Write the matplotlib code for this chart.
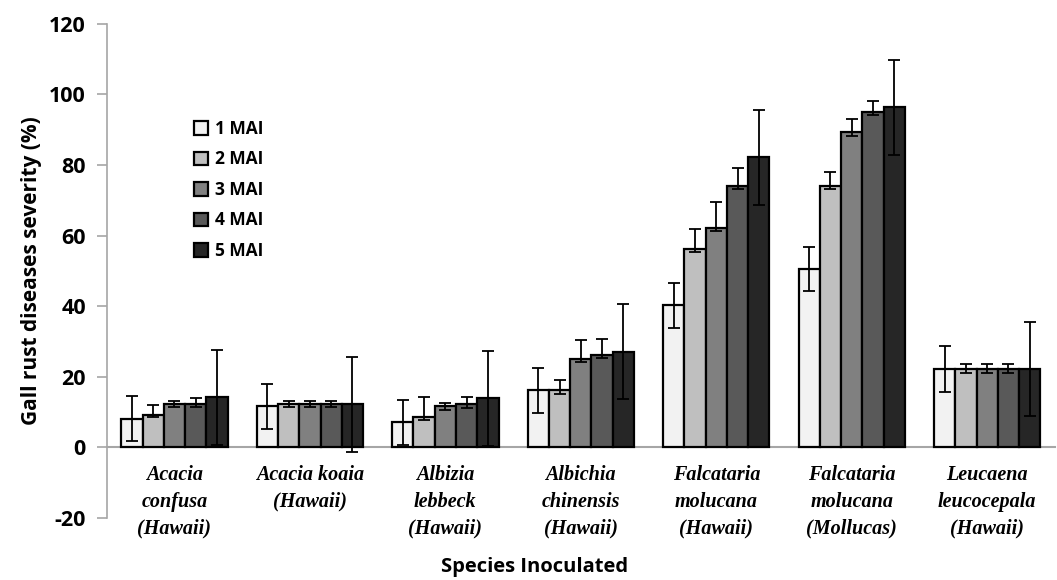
import numpy as np
import matplotlib
matplotlib.use("Agg")
import matplotlib.pyplot as plt

plt.rcParams["axes.unicode_minus"] = False

species = ["Acacia\nconfusa\n(Hawaii)", "Acacia koaia\n(Hawaii)", "Albizia\nlebbeck\n(Hawaii)",
           "Albichia\nchinensis\n(Hawaii)", "Falcataria\nmolucana\n(Hawaii)",
           "Falcataria\nmolucana\n(Mollucas)", "Leucaena\nleucocepala\n(Hawaii)"]
series = ["1 MAI", "2 MAI", "3 MAI", "4 MAI", "5 MAI"]

mai1 = [8.1, 11.6, 7.1, 16.2, 40.2, 50.6, 22.1]
mai2 = [9.3, 12.2, 8.6, 16.2, 56.2, 74.1, 22.1]
mai3 = [12.2, 12.2, 11.6, 25.0, 62.2, 89.2, 22.1]
mai4 = [12.2, 12.2, 12.2, 26.3, 74.1, 95.1, 22.1]
mai5 = [14.2, 12.2, 13.9, 27.1, 82.3, 96.3, 22.1]

# error bars: upper / lower lengths
up1 = [6.4, 6.4, 6.4, 6.3, 6.3, 6.3, 6.5]
lo1 = [6.4, 6.4, 6.4, 6.5, 6.3, 6.3, 6.3]
up2 = [2.8, 0.9, 5.8, 2.8, 5.7, 3.8, 1.4]
lo2 = [0.8, 0.9, 0.9, 1.0, 0.9, 0.9, 0.9]
up3 = [0.9, 0.9, 1.0, 5.4, 7.2, 3.9, 1.4]
lo3 = [0.9, 0.9, 0.9, 0.9, 0.9, 1.0, 0.9]
up4 = [1.9, 0.9, 2.0, 4.3, 5.1, 2.9, 1.4]
lo4 = [0.9, 0.9, 1.1, 1.1, 0.9, 0.9, 0.9]
up5 = [13.4, 13.3, 13.4, 13.4, 13.3, 13.3, 13.4]
lo5 = [13.5, 13.4, 13.4, 13.4, 13.5, 13.4, 13.3]

values = [mai1, mai2, mai3, mai4, mai5]
uppers = [up1, up2, up3, up4, up5]
lowers = [lo1, lo2, lo3, lo4, lo5]
colors = ["#f2f2f2", "#bfbfbf", "#808080", "#595959", "#262626"]

sans = "Open Sans"

fig = plt.figure(figsize=(10.57, 5.8), dpi=100)
ax = fig.add_axes([0.101, 0.107, 0.897, 0.852])

x = np.arange(len(species))
w = 0.157
for i, (name, vals) in enumerate(zip(series, values)):
    pos = x + (i - 2) * w
    ax.bar(pos, vals, width=w, color=colors[i], edgecolor="black", linewidth=1.6,
           label=name, zorder=2)
    ax.errorbar(pos, vals, yerr=[lowers[i], uppers[i]], fmt="none", ecolor="black",
                elinewidth=1.3, capsize=4.5, capthick=1.3, zorder=3)

ax.set_xlim(-0.5, len(species) - 0.5)
ax.set_ylim(-20, 120)
ax.set_yticks(range(-20, 121, 20))

for s in ["top", "right"]:
    ax.spines[s].set_visible(False)
ax.spines["left"].set_color("#a6a6a6")
ax.spines["left"].set_linewidth(1.2)
ax.spines["bottom"].set_position(("data", 0))
ax.spines["bottom"].set_color("#a6a6a6")
ax.spines["bottom"].set_linewidth(1.5)
ax.spines["bottom"].set_zorder(1)

ax.tick_params(axis="y", direction="out", length=7, color="#a6a6a6", width=1.2, pad=8)
ax.tick_params(axis="x", length=0, pad=13)
for lab in ax.get_yticklabels():
    lab.set_fontfamily(sans)
    lab.set_fontweight("bold")
    lab.set_fontsize(15.5)

ax.set_xticks(x)
ax.set_xticklabels(species, fontfamily="Liberation Serif", fontstyle="italic",
                   fontweight="bold", fontsize=14.5, linespacing=1.42)

ax.set_ylabel("Gall rust diseases severity (%)", fontfamily=sans, fontweight="bold",
              fontsize=15, labelpad=5)
fig.text(0.506, 0.022, "Species Inoculated", ha="center", va="center",
         fontfamily=sans, fontweight="bold", fontsize=14.5)

ax.legend(loc="upper left", bbox_to_anchor=(0.076, 0.837), frameon=False,
          prop={"family": sans, "weight": "bold", "size": 12.5},
          handlelength=0.8, handleheight=0.8, handletextpad=0.4, labelspacing=0.72)

fig.savefig("out.png", dpi=100)
